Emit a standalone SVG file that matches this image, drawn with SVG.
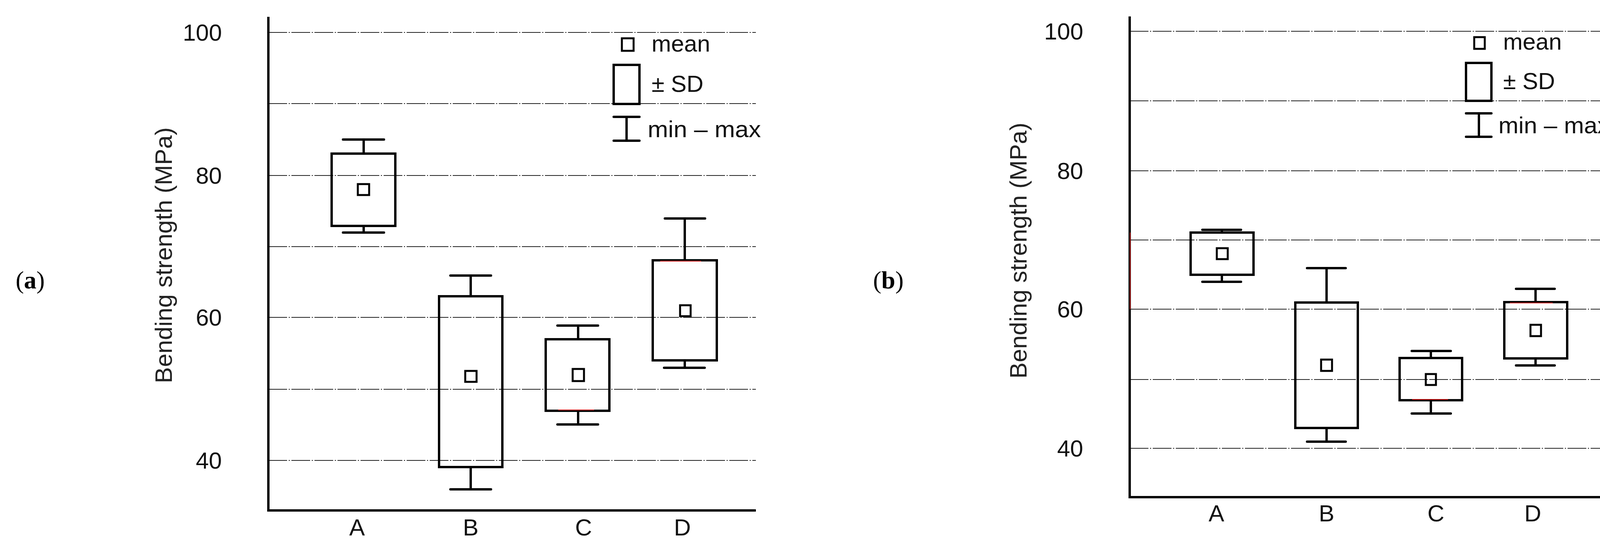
<svg xmlns="http://www.w3.org/2000/svg" width="4141" height="1420" viewBox="0 0 4141 1420">
<style>
.t{font-family:"Liberation Sans",Arial,sans-serif;font-size:60px;fill:#111}
.yl{font-family:"Liberation Sans",Arial,sans-serif;font-size:62px;fill:#222;text-anchor:middle}
.pl{font-family:"Liberation Serif","Times New Roman",serif;font-size:64px;fill:#000}
.g{stroke:#222;stroke-width:2;stroke-dasharray:48 4 3 4;fill:none}
.ax{stroke:#000;stroke-width:6;fill:none}
.b{stroke:#000;stroke-width:6;fill:none;stroke-linecap:round}
.m{stroke:#000;stroke-width:5;fill:none}
.r{stroke:#c00000;stroke-width:2;fill:none}
</style>
<rect width="4141" height="1420" fill="#fff"/>
<g id="panel-a">
<text class="pl" x="40" y="738">(<tspan font-weight="bold">a</tspan>)</text>
<text class="yl" transform="translate(440,653) rotate(-90)">Bending strength (MPa)</text>
<g id="grid-a">
<path class="g" d="M687 83H1935M687 265H1935M687 449H1935M687 631H1935M687 812H1935M687 996H1935M687 1178H1935"/>
</g>
<g class="t" text-anchor="end">
<text x="568" y="104">100</text><text x="568" y="470">80</text><text x="568" y="833">60</text><text x="568" y="1199">40</text>
</g>
<g class="t" text-anchor="middle">
<text x="914" y="1370">A</text><text x="1205" y="1370">B</text><text x="1494" y="1370">C</text><text x="1747" y="1370">D</text>
</g>
<g id="a-A"><path class="b" d="M931 357V393M931 578V595M878 357H983M878 595H983"/><rect class="b" x="849" y="393" width="163" height="185"/><rect class="m" x="916" y="471" width="29" height="28"/></g>
<g id="a-B"><path class="b" d="M1205 705V758M1205 1195V1252M1153 705H1257M1153 1252H1257"/><rect class="b" x="1124" y="758" width="162" height="437"/><rect class="m" x="1191" y="949" width="29" height="28"/></g>
<g id="a-C"><path class="b" d="M1480 833V868M1480 1051V1086M1427 833H1531M1427 1086H1531"/><rect class="b" x="1397" y="868" width="163" height="183"/><rect class="m" x="1466" y="944" width="29" height="31"/><path class="r" d="M1429 1049H1521"/></g>
<g id="a-D"><path class="b" d="M1753 559V666M1753 922V941M1702 559H1805M1700 941H1804"/><rect class="b" x="1671" y="666" width="164" height="256"/><rect class="m" x="1741" y="781" width="27" height="28"/><path class="r" d="M1690 668H1795"/></g>
<g id="legend-a">
<rect class="m" x="1592" y="98" width="30" height="32"/>
<text class="t" x="1668" y="132">mean</text>
<rect class="b" x="1571" y="166" width="66" height="100"/>
<text class="t" x="1668" y="235">± SD</text>
<path class="b" d="M1604 299V360M1571 299H1637M1571 360H1637"/>
<text class="t" x="1658" y="351" textLength="290" lengthAdjust="spacingAndGlyphs">min – max</text>
</g>
<path class="ax" d="M687 43V1306H1935"/>
</g>
<g id="panel-b">
<text class="pl" x="2235" y="738">(<tspan font-weight="bold">b</tspan>)</text>
<text class="yl" transform="translate(2628,641) rotate(-90)">Bending strength (MPa)</text>
<g id="grid-b">
<path class="g" d="M2892 80H4109M2892 258H4109M2892 437H4109M2892 614H4109M2892 791H4109M2892 971H4109M2892 1147H4109"/>
</g>
<g class="t" text-anchor="end">
<text x="2773" y="101">100</text><text x="2773" y="458">80</text><text x="2773" y="812">60</text><text x="2773" y="1168">40</text>
</g>
<g class="t" text-anchor="middle">
<text x="3114" y="1334">A</text><text x="3396" y="1334">B</text><text x="3676" y="1334">C</text><text x="3924" y="1334">D</text>
</g>
<g id="b-A"><path class="b" d="M3128 588V595M3128 703V721M3078 588H3177M3078 721H3177"/><rect class="b" x="3048" y="595" width="161" height="108"/><rect class="m" x="3115" y="635" width="28" height="28"/></g>
<g id="b-B"><path class="b" d="M3396 686V774M3396 1095V1130M3346 686H3445M3346 1130H3445"/><rect class="b" x="3316" y="774" width="160" height="321"/><rect class="m" x="3382" y="920" width="28" height="29"/></g>
<g id="b-C"><path class="b" d="M3663 898V916M3663 1024V1058M3614 898H3714M3614 1058H3714"/><rect class="b" x="3583" y="916" width="160" height="108"/><rect class="m" x="3650" y="957" width="26" height="28"/><path class="r" d="M3615 1022H3707"/></g>
<g id="b-D"><path class="b" d="M3931 739V773M3931 917V935M3881 739H3980M3881 935H3980"/><rect class="b" x="3851" y="773" width="161" height="144"/><rect class="m" x="3918" y="831" width="27" height="29"/><path class="r" d="M3865 775H3975"/></g>
<g id="legend-b">
<rect class="m" x="3774" y="95" width="27" height="30"/>
<text class="t" x="3848" y="127">mean</text>
<rect class="b" x="3753" y="161" width="65" height="97"/>
<text class="t" x="3848" y="228">± SD</text>
<path class="b" d="M3786 290V350M3753 290H3818M3753 350H3818"/>
<text class="t" x="3836" y="341" textLength="284" lengthAdjust="spacingAndGlyphs">min – max</text>
</g>
<path class="ax" d="M2892 42V1272H4109"/>
<path class="r" d="M2893 595V791" stroke-width="3"/>
</g>
</svg>
